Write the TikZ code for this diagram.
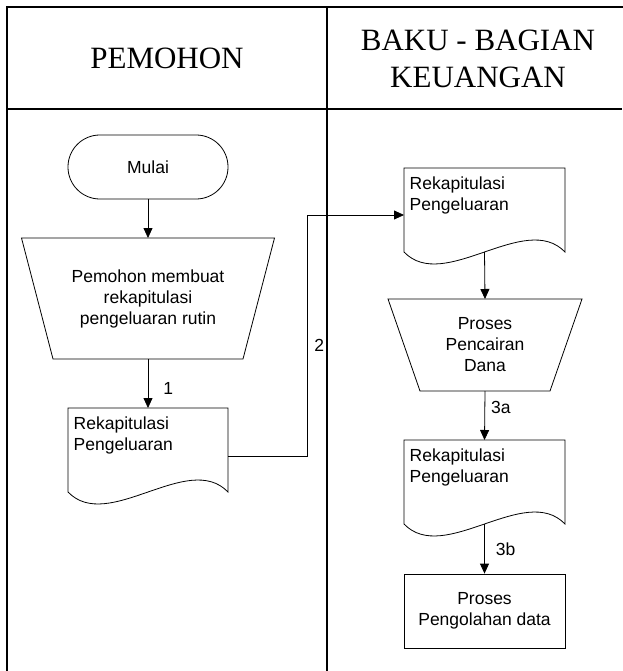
\documentclass[tikz,border=0pt]{standalone}
\usepackage{fontspec}
\setmainfont{Liberation Serif}
\setsansfont{Liberation Sans}
\usetikzlibrary{arrows.meta,calc}

% outline of a document symbol drawn around an (invisible) holder node
\newcommand{\docoutline}[1]{%
  \draw[shapeline] (#1.south west) -- (#1.north west) -- (#1.north east) -- (#1.south east)
    .. controls ($(#1.south east)+(-40,-41.5)$) and ($(#1.south west)+(40,41.5)$) .. (#1.south west) -- cycle;}
% outline of a manual-operation (inverted trapezium) symbol
\newcommand{\trapoutline}[2]{%
  \draw[shapeline] (#1.north west) -- (#1.north east) -- ($(#1.south east)+(-#2,0)$)
    -- ($(#1.south west)+(#2,0)$) -- cycle;}

\begin{document}
\begin{tikzpicture}[x=1pt,y=-1pt,
  frame/.style={line width=1.1pt, line cap=rect},
  headline/.style={line width=1.4pt},
  lanehead/.style={font=\fontsize{31}{37}\selectfont, align=center, inner sep=0pt},
  shapeline/.style={draw=black, line width=0.8pt},
  body/.style={font=\sffamily\fontsize{17.5}{21}\selectfont, align=center},
  holder/.style={inner sep=0pt, outer sep=0pt},
  doctext/.style={body, align=left, anchor=north west, inner xsep=5.5pt, inner ysep=9pt},
  arr/.style={line width=0.8pt, -{Triangle[length=10pt,width=9pt]}},
  lbl/.style={font=\sffamily\fontsize{17.5}{21}\selectfont, inner sep=0pt, anchor=west}]

\useasboundingbox (0,0) rectangle (622,671);

% swimlane frame
\draw[frame] (7,671) -- (7,7) -- (622,7);
\draw[frame] (327,7) -- (327,671);
\draw[headline] (7,109) -- (622,109);

\node[lanehead] (h1) at (167,58) {PEMOHON};
\node[lanehead] (h2) at (478,58.5) {BAKU - BAGIAN\\KEUANGAN};

% lane: PEMOHON
\node[body, draw, line width=0.8pt, rounded corners=31.9pt, minimum width=160pt,
      minimum height=64pt, inner sep=0pt] (mulai) at (148,167) {Mulai};

\node[body, holder, minimum width=253pt, minimum height=121pt] (p1) at (148,298.5)
  {Pemohon membuat\\rekapitulasi\\pengeluaran rutin};
\trapoutline{p1}{31.5}

\node[holder, minimum width=160pt, minimum height=84pt] (d1) at (148,450) {};
\docoutline{d1}
\node[doctext] (t1) at (d1.north west) {Rekapitulasi\\Pengeluaran};

% lane: BAKU - BAGIAN KEUANGAN
\node[holder, minimum width=161pt, minimum height=84pt] (d2) at (484.5,210) {};
\docoutline{d2}
\node[doctext] (t2) at (d2.north west) {Rekapitulasi\\Pengeluaran};

\node[body, holder, minimum width=194pt, minimum height=92pt] (p2) at (485,345)
  {Proses\\Pencairan\\Dana};
\trapoutline{p2}{32}

\node[holder, minimum width=161pt, minimum height=84pt] (d3) at (484.5,482) {};
\docoutline{d3}
\node[doctext] (t3) at (d3.north west) {Rekapitulasi\\Pengeluaran};

\node[body, draw, line width=0.8pt, minimum width=161pt, minimum height=74pt,
      inner sep=0pt] (r1) at (484.5,611) {Proses\\Pengolahan data};

% connectors
\draw[arr] (mulai.south) -- (p1.north);
\draw[arr] (p1.south) -- node[lbl, pos=0.61, xshift=15pt] {1} (d1.north);

\coordinate (k1) at ($(d1.east)+(79,6)$);
\coordinate (k2) at ($(k1 |- d2.west)+(0,5)$);
\draw[arr] ($(d1.east)+(0,6)$) -- (k1) -- node[lbl, pos=0.46, xshift=7pt] {2} (k2)
  -- ($(d2.west)+(0,5)$);

\draw[arr] (d2.south) -- (p2.north);
\draw[arr] (p2.south) -- node[lbl, pos=0.33, xshift=6pt] {3a} (d3.north);
\draw[arr] (d3.south) -- node[lbl, pos=0.5, xshift=11pt] {3b} (r1.north);
\end{tikzpicture}
\end{document}
